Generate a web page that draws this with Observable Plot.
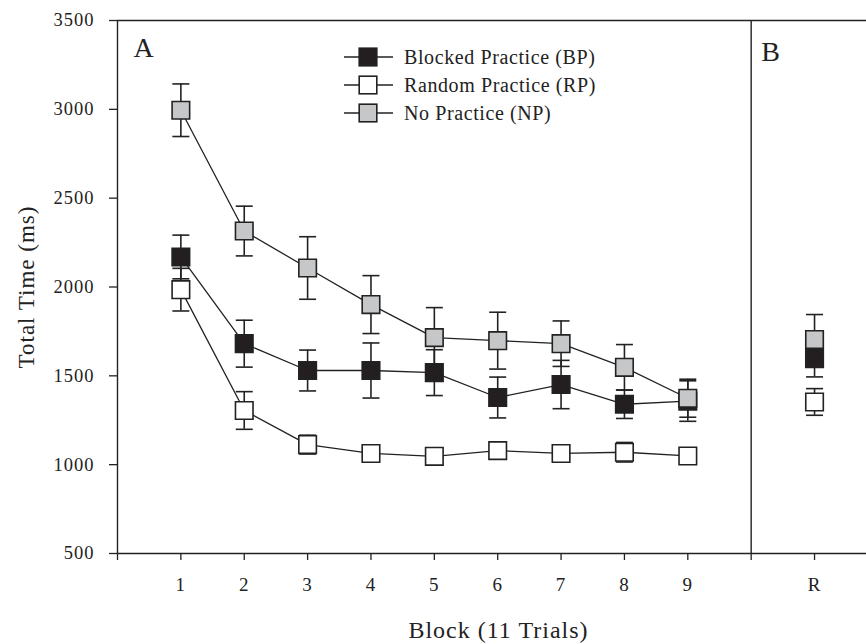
<!DOCTYPE html>
<html><head><meta charset="utf-8">
<script src="https://cdn.jsdelivr.net/npm/d3@7"></script>
<script src="https://cdn.jsdelivr.net/npm/@observablehq/plot@0.6"></script>
<style>
body{margin:0;background:#fff;}
#chart{position:relative;width:866px;height:644px;}
#chart svg text{letter-spacing:1px;}
#chart svg g.legend text{letter-spacing:0.6px;}
</style></head><body><div id="chart"></div>
<script>
// ---- data ----
const blocks = [1, 2, 3, 4, 5, 6, 7, 8, 9];
const bpMean = [2169, 1681, 1530, 1530, 1518, 1378, 1451, 1340, 1358];
const bpErr  = [123, 132, 115, 155, 129, 115, 136, 80, 114];
const rpMean = [1985, 1305, 1113, 1063, 1047, 1079, 1063, 1070, 1049];
const rpErr  = [120, 106, 53, 20, 15, 20, 15, 55, 10];
const npMean = [2995, 2315, 2107, 1901, 1715, 1698, 1681, 1548, 1374];
const npErr  = [148, 140, 176, 163, 169, 160, 128, 128, 107];
const retentionX = 11;
const retentionMean = [1597, 1353, 1704]; // BP, RP, NP
const retentionErr  = [103, 75, 141];
const seriesNames = ["Blocked Practice (BP)", "Random Practice (RP)", "No Practice (NP)"];
const seriesFills = ["#231f20", "#ffffff", "#c6c7c9"];
const xTicks = [0, 1, 2, 3, 4, 5, 6, 7, 8, 9, 10, 11];
const xTickLabels = ["", "1", "2", "3", "4", "5", "6", "7", "8", "9", "", "R"];
const yTicks = [500, 1000, 1500, 2000, 2500, 3000, 3500];
const panelX = [0, 10];
const panelNames = ["A", "B"];
const xTitle = "Block (11 Trials)";
const yTitle = "Total Time (ms)";

// ---- tables ----
const means = [bpMean, rpMean, npMean];
const errs = [bpErr, rpErr, npErr];
const acq = [];
const all = [];
seriesNames.forEach((s, i) => {
  blocks.forEach((b, j) => {
    const row = {series: s, x: b, y: means[i][j], e: errs[i][j]};
    acq.push(row); all.push(row);
  });
});
seriesNames.forEach((s, i) => {
  all.push({series: s, x: retentionX, y: retentionMean[i], e: retentionErr[i]});
});
const sq = [];
seriesNames.forEach(s => all.filter(d => d.series === s).forEach(d => sq.push(d)));

const capSymbol = {draw(ctx) { ctx.moveTo(-8.5, 0); ctx.lineTo(8.5, 0); }};
const font = "'Liberation Serif', 'Times New Roman', Times, serif";
const ink = "#222222";

const plot = Plot.plot({
  width: 866, height: 644,
  marginLeft: 117, marginRight: 0, marginTop: 20, marginBottom: 91,
  style: {fontFamily: font, fontSize: "18px", color: ink, background: "#fff"},
  x: {type: "linear", domain: [0, 11.82]},
  y: {domain: [500, 3500]},
  color: {domain: seriesNames, range: seriesFills},
  marks: [
    Plot.axisY({ticks: yTicks, tickFormat: d => String(d), tickSize: 8, tickPadding: 15, fontSize: 18.5, label: null, strokeWidth: 1.3}),
    Plot.axisX({ticks: xTicks, tickFormat: d => xTickLabels[xTicks.indexOf(d)], tickSize: 7, tickPadding: 17, fontSize: 19, label: null, strokeWidth: 1.3}),
    Plot.ruleY([3500], {stroke: ink, strokeWidth: 1.4}),
    Plot.ruleY([500], {stroke: ink, strokeWidth: 1.4}),
    Plot.ruleX(panelX, {stroke: ink, strokeWidth: 1.4}),
    Plot.ruleX(all, {x: "x", y1: d => d.y - d.e, y2: d => d.y + d.e, stroke: ink, strokeWidth: 1.6}),
    Plot.dot(all, {x: "x", y: d => d.y + d.e, symbol: capSymbol, fill: "none", stroke: ink, strokeWidth: 1.6}),
    Plot.dot(all, {x: "x", y: d => d.y - d.e, symbol: capSymbol, fill: "none", stroke: ink, strokeWidth: 1.6}),
    Plot.line(acq, {x: "x", y: "y", z: "series", stroke: ink, strokeWidth: 1.3}),
    Plot.dot(sq, {x: "x", y: "y", symbol: "square", r: 9.9, fill: "series", stroke: ink, strokeWidth: 1.6}),
    Plot.text([panelNames[0]], {x: [panelX[0]], frameAnchor: "top", textAnchor: "start", lineAnchor: "top", dx: 16, dy: 17, fontSize: 28}),
    Plot.text([panelNames[1]], {x: [panelX[1]], frameAnchor: "top", textAnchor: "start", lineAnchor: "top", dx: 10, dy: 21, fontSize: 28}),
    Plot.text([xTitle], {frameAnchor: "bottom", textAnchor: "middle", dx: 6.5, dy: 77, fontSize: 24, lineAnchor: "middle"}),
    Plot.text([yTitle], {frameAnchor: "left", textAnchor: "middle", rotate: -90, dx: -91, fontSize: 23, lineAnchor: "middle"})
  ]
});

// legend
const svg = d3.select(plot);
const lg = svg.append("g").attr("class", "legend").attr("font-family", font).attr("font-size", 20).attr("fill", ink).attr("text-anchor", "start");
const legendX = 368, legendTop = 57, legendGap = 28;
seriesNames.forEach((s, i) => {
  const g = lg.append("g").attr("transform", `translate(${legendX},${legendTop + i * legendGap})`);
  g.append("line").attr("x1", -24).attr("x2", 25).attr("stroke", ink).attr("stroke-width", 1.5);
  g.append("rect").attr("x", -8.8).attr("y", -8.8).attr("width", 17.6).attr("height", 17.6)
    .attr("fill", seriesFills[i]).attr("stroke", ink).attr("stroke-width", 1.6);
  g.append("text").attr("x", 36).attr("dy", "0.33em").attr("text-anchor", "start").text(s);
});

document.getElementById("chart").appendChild(plot);
</script></body></html>
